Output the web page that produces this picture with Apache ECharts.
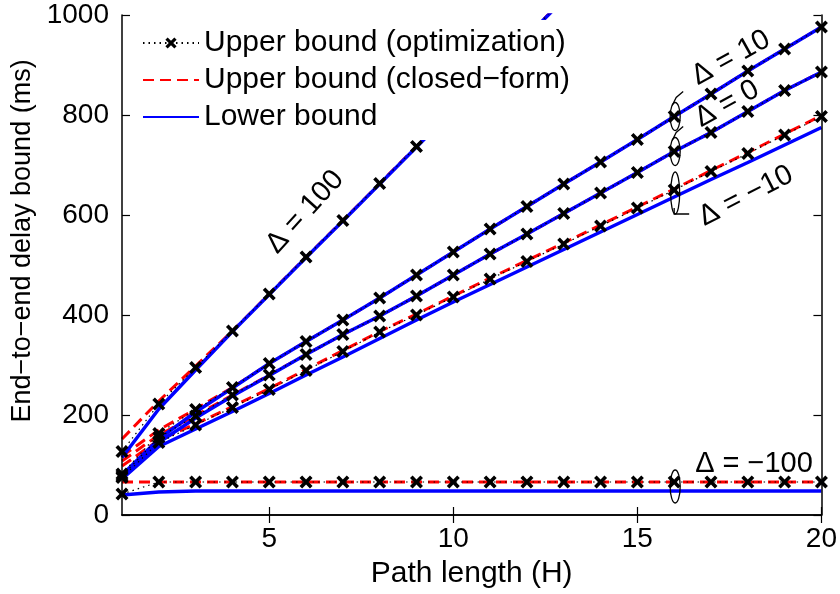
<!DOCTYPE html>
<html>
<head>
<meta charset="utf-8">
<script src="https://cdn.jsdelivr.net/npm/echarts@6/dist/echarts.min.js"></script>
<style>
  html, body { margin: 0; padding: 0; background: #fff; }
  #chart { width: 840px; height: 594px; }
</style>
</head>
<body>
<div id="chart"></div>
<script>
// Path length H (number of hops)
const pathLength = [1, 2, 3, 4, 5, 6, 7, 8, 9, 10, 11, 12, 13, 14, 15, 16, 17, 18, 19, 20];

// Axis ticks
const xTicks = [5, 10, 15, 20];
const yTicks = [0, 200, 400, 600, 800, 1000];

// Delay bounds (ms), Δ = 100 (leaves the plot above 1000 ms)
const optD100    = [127, 222, 295, 368, 442, 516, 589, 663, 737, 811, 885, 958, 1032];
const closedD100 = [152, 228, 298, 368, 442, 516, 589, 663, 737, 811, 885, 958, 1032];
const lowerD100  = [115, 212, 290, 367, 441, 515, 588, 662, 736, 810, 884, 957, 1031];

// Δ = 10
const optD10    = [82, 163, 211, 255, 303, 347, 390, 434, 480, 526, 572, 617, 662, 706, 751, 797, 842, 888, 932, 976];
const closedD10 = [118, 170, 212, 255, 303, 347, 390, 434, 480, 526, 572, 617, 662, 706, 751, 797, 842, 888, 932, 976];
const lowerD10  = [80, 152, 206, 254, 303, 347, 390, 434, 480, 526, 572, 617, 662, 706, 751, 797, 842, 888, 932, 976];

// Δ = 0
const optD0    = [78, 155, 198, 240, 280, 321, 361, 398, 438, 480, 522, 562, 603, 644, 685, 727, 765, 807, 849, 886];
const closedD0 = [108, 160, 199, 240, 280, 321, 361, 398, 438, 480, 522, 562, 603, 644, 685, 727, 765, 807, 849, 886];
const lowerD0  = [76, 145, 194, 238, 279, 321, 361, 398, 438, 480, 522, 562, 603, 644, 685, 727, 765, 807, 849, 886];

// Δ = −10
const optDm10    = [75, 145, 180, 215, 251, 289, 327, 366, 400, 436, 472, 507, 542, 578, 614, 650, 687, 723, 760, 797];
const closedDm10 = [98, 150, 182, 217, 253, 291, 329, 367, 402, 438, 474, 509, 544, 580, 616, 652, 689, 725, 762, 799];
const lowerDm10  = [72, 137, 172, 207, 243, 280, 316, 353, 390, 426, 461, 496, 531, 566, 601, 636, 671, 705, 740, 775];

// Δ = −100
const optDm100    = [42, 66, 66, 66, 66, 66, 66, 66, 66, 66, 66, 66, 66, 66, 66, 66, 66, 66, 66, 66];
const closedDm100 = [66, 66, 66, 66, 66, 66, 66, 66, 66, 66, 66, 66, 66, 66, 66, 66, 66, 66, 66, 66];
const lowerDm100  = [40, 46, 48, 48, 48, 48, 48, 48, 48, 48, 48, 48, 48, 48, 48, 48, 48, 48, 48, 48];

const NAME_OPT = 'Upper bound (optimization)';
const NAME_CLOSED = 'Upper bound (closed\u2212form)';
const NAME_LOWER = 'Lower bound';

const FONT = '"Liberation Sans", Arial, Helvetica, sans-serif';
const CROSS = 'path://M2,0 L5,3 L8,0 L10,2 L7,5 L10,8 L8,10 L5,7 L2,10 L0,8 L3,5 L0,2 Z';

function pairs(values) {
  return values.map((v, i) => [pathLength[i], v]);
}

function optSeries(values) {
  return {
    name: NAME_OPT, type: 'line', data: pairs(values), z: 5,
    symbol: CROSS, symbolSize: 13, showAllSymbol: true,
    itemStyle: { color: '#000' },
    lineStyle: { color: '#000', width: 1.2, type: [1.5, 4] },
    emphasis: { disabled: true }
  };
}
function closedSeries(values) {
  return {
    name: NAME_CLOSED, type: 'line', data: pairs(values), z: 3,
    symbol: 'none',
    itemStyle: { color: '#ff0000' },
    lineStyle: { color: '#ff0000', width: 3, type: [11, 6] },
    emphasis: { disabled: true }
  };
}
function lowerSeries(values) {
  return {
    name: NAME_LOWER, type: 'line', data: pairs(values), z: 4,
    symbol: 'none',
    itemStyle: { color: '#0000ff' },
    lineStyle: { color: '#0000ff', width: 3.5 },
    emphasis: { disabled: true }
  };
}

const groups = [
  [optD100, closedD100, lowerD100],
  [optD10, closedD10, lowerD10],
  [optD0, closedD0, lowerD0],
  [optDm10, closedDm10, lowerDm10],
  [optDm100, closedDm100, lowerDm100]
];

const series = [];
groups.forEach(g => {
  series.push(closedSeries(g[1]));
  series.push(lowerSeries(g[2]));
  series.push(optSeries(g[0]));
});

const axisLine = { show: true, lineStyle: { color: '#000', width: 1.5 } };
const tickStyle = { color: '#000', width: 1.2 };

const chart = echarts.init(document.getElementById('chart'), null, { renderer: 'canvas' });

chart.setOption({
  animation: false,
  backgroundColor: '#fff',
  textStyle: { fontFamily: FONT },
  grid: { left: 122, right: 18, top: 15, bottom: 77, containLabel: false },
  legend: {
    data: [
      { name: NAME_OPT },
      { name: NAME_CLOSED, itemStyle: { opacity: 0 } },
      { name: NAME_LOWER, itemStyle: { opacity: 0 } }
    ],
    orient: 'vertical',
    left: 124, top: 20,
    padding: [8, 20, 8, 18],
    itemWidth: 56, itemHeight: 14, itemGap: 7,
    backgroundColor: '#fff',
    z: 10,
    selectedMode: false,
    textStyle: { fontSize: 30, color: '#000', fontFamily: FONT }
  },
  xAxis: [
    {
      type: 'value', min: 1, max: 20, position: 'bottom', z: 11,
      name: 'Path length (H)', nameLocation: 'middle', nameGap: 44,
      nameTextStyle: { fontSize: 30, color: '#000', fontFamily: FONT },
      axisLine: axisLine,
      axisTick: { show: true, inside: true, length: 8, customValues: xTicks, lineStyle: tickStyle },
      axisLabel: { show: true, customValues: xTicks, fontSize: 28, color: '#000', margin: 10, fontFamily: FONT },
      splitLine: { show: false }
    },
    {
      type: 'value', min: 1, max: 20, position: 'top', z: 11,
      axisLine: axisLine,
      axisTick: { show: true, inside: true, length: 8, customValues: xTicks, lineStyle: tickStyle },
      axisLabel: { show: false },
      splitLine: { show: false }
    }
  ],
  yAxis: [
    {
      type: 'value', min: 0, max: 1000, interval: 200, position: 'left', z: 11,
      name: 'End\u2212to\u2212end delay bound (ms)', nameLocation: 'middle', nameGap: 78,
      nameTextStyle: { fontSize: 27, color: '#000', fontFamily: FONT, padding: [0, 0, 0, 48] },
      axisLine: axisLine,
      axisTick: { show: true, inside: true, length: 8, lineStyle: tickStyle },
      axisLabel: { show: true, fontSize: 28, color: '#000', margin: 13, fontFamily: FONT,
                   formatter: v => String(v) },
      splitLine: { show: false }
    },
    {
      type: 'value', min: 0, max: 1000, interval: 200, position: 'right', z: 11,
      axisLine: axisLine,
      axisTick: { show: true, inside: true, length: 8, lineStyle: tickStyle },
      axisLabel: { show: false },
      splitLine: { show: false }
    }
  ],
  series: series
});

// Annotations: group ellipses at H = 16 and Δ labels
const H_MARK = 16;
const idx = pathLength.indexOf(H_MARK);
function px(h, v) { return chart.convertToPixel({ xAxisIndex: 0, yAxisIndex: 0 }, [h, v]); }

function ellipseAround(top, bottom, rx, pad) {
  const a = px(H_MARK, top), b = px(H_MARK, bottom);
  const cy = (a[1] + b[1]) / 2;
  const ry = Math.abs(b[1] - a[1]) / 2 + pad;
  return { cx: a[0] + 1, cy: cy, rx: rx, ry: ry };
}

const e10 = ellipseAround(closedD10[idx], lowerD10[idx], 5, 14);
const e0 = ellipseAround(closedD0[idx], lowerD0[idx], 5, 14);
const em10 = ellipseAround(closedDm10[idx], lowerDm10[idx], 4.5, 17);
const em100 = ellipseAround(closedDm100[idx], lowerDm100[idx], 5, 12);

const stroke = { stroke: '#000', lineWidth: 1.3, fill: null };
function ellipseEl(e) {
  return { type: 'ellipse', z: 20, shape: { cx: e.cx, cy: e.cy, rx: e.rx, ry: e.ry }, style: Object.assign({}, stroke) };
}
function hookUp(e) {
  const tx = e.cx, ty = e.cy - e.ry;
  return { type: 'polyline', z: 20, shape: { points: [[tx - 3, ty + 3], [tx + 1, ty - 5], [tx + 8, ty - 11]] }, style: Object.assign({}, stroke) };
}
function hookDown(e) {
  const bx = e.cx - 1, by = e.cy + e.ry;
  return { type: 'polyline', z: 20, shape: { points: [[bx, by - 6], [bx, by], [bx + 15, by]] }, style: Object.assign({}, stroke) };
}
function label(text, x, y, deg) {
  return {
    type: 'text', z: 20, x: x, y: y, rotation: deg * Math.PI / 180,
    style: { text: text, fontSize: 29, fontFamily: FONT, fill: '#000', align: 'center', verticalAlign: 'middle' }
  };
}

chart.setOption({
  graphic: [
    ellipseEl(e10), hookUp(e10),
    ellipseEl(e0), hookUp(e0),
    ellipseEl(em10), hookDown(em10),
    ellipseEl(em100),
    label('\u0394 = 100', 305, 212, 48),
    label('\u0394 = 10', 731, 58, 29),
    label('\u0394 = 0', 727, 104, 29),
    label('\u0394 = \u221210', 746, 196, 27),
    label('\u0394 = \u2212100', 754, 464, 0)
  ]
});
</script>
</body>
</html>
